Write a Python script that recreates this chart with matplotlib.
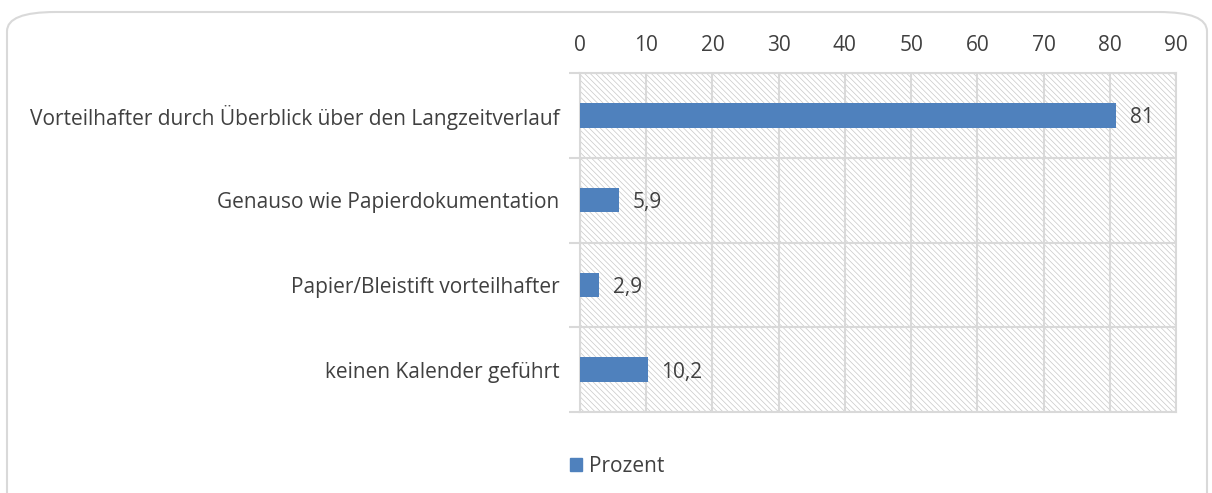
import matplotlib.pyplot as plt
from matplotlib.patches import Rectangle, FancyBboxPatch
import numpy as np

# Daten
kategorien = ["Vorteilhafter durch Überblick über den Langzeitverlauf",
              "Genauso wie Papierdokumentation",
              "Papier/Bleistift vorteilhafter",
              "keinen Kalender geführt"]
prozent = [81, 5.9, 2.9, 10.2]
beschriftung = ["81", "5,9", "2,9", "10,2"]

plt.rcParams['font.family'] = ['Open Sans', 'DejaVu Sans']
plt.rcParams['hatch.linewidth'] = 0.5
grau = '#D9D9D9'
blau = '#4F81BD'
text_farbe = '#404040'
fs = 15

fig = plt.figure(figsize=(12.12, 4.93), dpi=100)

# abgerundeter Rahmen
rahmen = FancyBboxPatch((7 / 1212, -0.05), 1200 / 1212, 1.0 - 12 / 493 + 0.05,
                        boxstyle="round,pad=0,rounding_size=0.04",
                        transform=fig.transFigure, facecolor='none',
                        edgecolor=grau, linewidth=1.5, mutation_aspect=493 / 1212 * 2.4,
                        zorder=-1)
fig.patches.append(rahmen)

ax = fig.add_axes([580 / 1212, 81 / 493, 596 / 1212, 339 / 493])
ax.set_facecolor('none')

y = np.arange(len(kategorien))
ax.set_xlim(0, 90)
ax.set_ylim(len(kategorien) - 0.5, -0.5)

# Schraffur im Hintergrund
schraffur = Rectangle((0, 0), 1, 1, transform=ax.transAxes, facecolor='white',
                      edgecolor='#C8C8C8', hatch='\\\\\\\\\\\\', linewidth=0, zorder=0)
ax.add_patch(schraffur)

ax.barh(y, prozent, height=0.29, color=blau, zorder=3)
for yi, wert, txt in zip(y, prozent, beschriftung):
    ax.text(wert + 2.1, yi + 0.03, txt, va='center', ha='left', fontsize=fs,
            color=text_farbe, zorder=4)

ax.set_yticks(y)
ax.set_yticklabels(kategorien, fontsize=fs, color=text_farbe)
ax.set_yticks(np.arange(-0.5, len(kategorien), 1), minor=True)
ax.tick_params(axis='y', which='major', length=0, pad=15)
ax.tick_params(axis='y', which='minor', length=8, color=grau, width=1.5)

ax.xaxis.tick_top()
ax.set_xticks(np.arange(0, 91, 10))
ax.tick_params(axis='x', length=0, labelsize=fs, labelcolor=text_farbe, pad=12)

ax.grid(axis='x', color=grau, linewidth=1.5, zorder=1)
ax.grid(axis='y', which='minor', color=grau, linewidth=1.5, zorder=1)
ax.set_axisbelow(True)
for s in ax.spines.values():
    s.set_color(grau)
    s.set_linewidth(1.5)

# Legende
fig.legend(handles=[Rectangle((0, 0), 1, 1, color=blau)], labels=['Prozent'],
           loc='center', bbox_to_anchor=(617 / 1212, 1 - 466 / 493), frameon=False,
           fontsize=fs, handlelength=0.6, handleheight=0.6, handletextpad=0.3,
           labelcolor=text_farbe)

fig.savefig('out.png', dpi=100)
